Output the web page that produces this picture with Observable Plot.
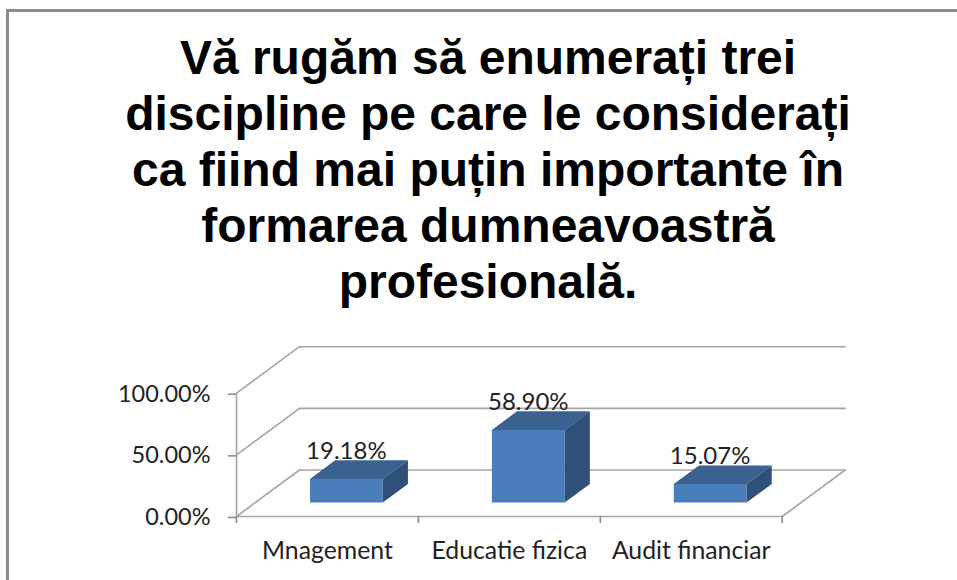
<!DOCTYPE html>
<html lang="ro">
<head>
<meta charset="utf-8">
<script src="https://cdn.jsdelivr.net/npm/d3@7"></script>
<script src="https://cdn.jsdelivr.net/npm/@observablehq/plot@0.6"></script>
<style>
html,body{margin:0;padding:0;background:#fff;width:957px;height:580px;overflow:hidden}
#frame{position:absolute;left:6px;top:9px;width:960px;height:580px;border-left:3px solid #8c8c8c;border-top:3px solid #8c8c8c;box-sizing:border-box}
#title{position:absolute;left:0;top:30px;width:976px;margin:0;text-align:center;font:bold 48px/56px "Liberation Sans",Arial,sans-serif;color:#000}
#chart{position:absolute;left:0;top:330px}
#chart svg{display:block;background:transparent}
</style>
</head>
<body>
<div id="frame"></div>
<h1 id="title">Vă rugăm să enumerați trei<br>discipline pe care le considerați<br>ca fiind mai puțin importante în<br>formarea dumneavoastră<br>profesională.</h1>
<div id="chart"></div>
<script>
const categories = ["Mnagement", "Educatie fizica", "Audit financiar"];
const values = [0.1918, 0.5890, 0.1507];
const yTicks = [0, 0.5, 1];

// Oblique projection of the 3D box: depth 0 = front of the floor, depth 1 = back wall.
const depthX = 0.3464, depthY = 0.377;
const barWidth = 0.4, barFront = 0.3, barBack = 0.7;
const pt = (cat, val, depth) => ({x: cat + depth * depthX, y: val + depth * depthY, cat});

const n = categories.length;
const segs = [];
for (const v of yTicks) {
  segs.push({k: "side" + v, ...pt(0, v, 0)}, {k: "side" + v, ...pt(0, v, 1)});
  segs.push({k: "back" + v, ...pt(0, v, 1)}, {k: "back" + v, ...pt(n, v, 1)});
}
segs.push({k: "floorR", ...pt(n, 0, 0)}, {k: "floorR", ...pt(n, 0, 1)});
segs.push({k: "floorF", ...pt(0, 0, 0)}, {k: "floorF", ...pt(n, 0, 0)});
segs.push({k: "axisY", ...pt(0, 0, 0)}, {k: "axisY", ...pt(0, 1, 0)});

const frontFace = [], topFace = [], sideFace = [];
values.forEach((v, i) => {
  const l = i + 0.5 - barWidth / 2, r = i + 0.5 + barWidth / 2;
  frontFace.push(pt(l, 0, barFront), pt(r, 0, barFront), pt(r, v, barFront), pt(l, v, barFront));
  topFace.push(pt(l, v, barFront), pt(r, v, barFront), pt(r, v, barBack), pt(l, v, barBack));
  sideFace.push(pt(r, 0, barFront), pt(r, v, barFront), pt(r, v, barBack), pt(r, 0, barBack));
  [frontFace, topFace, sideFace].forEach(f => f.slice(-4).forEach(p => p.cat = i));
});
const labels = values.map((v, i) => ({...pt(i + 0.5, v, barFront), text: d3.format(".2%")(v)}));

const face = (d, fill) => Plot.line(d, {x: "x", y: "y", z: "cat", fill, stroke: null});

const chart = Plot.plot({
  width: 957, height: 250,
  marginLeft: 236, marginRight: 175.3, marginTop: 62.7, marginBottom: 64,
  style: {fontFamily: "Lato, sans-serif", background: "transparent", overflow: "visible"},
  x: {domain: [0, n]},
  y: {domain: [0, 1]},
  marks: [
    Plot.line(segs, {x: "x", y: "y", z: "k", stroke: "#a6a6a6", strokeWidth: 1.6}),
    Plot.axisY({ticks: yTicks, tickFormat: d3.format(".2%"), tickSize: 8, tickPadding: 18, dy: 1,
      fontSize: 23.5, stroke: "#8c8c8c", fill: "#222", strokeWidth: 1.6, label: null}),
    Plot.axisX({ticks: d3.range(n + 1), tickFormat: () => "", tickSize: 7, stroke: "#8c8c8c", strokeWidth: 1.6, label: null}),
    Plot.axisX({ticks: categories.map((c, i) => i + 0.5), tickFormat: x => categories[x - 0.5],
      tickSize: 0, tickPadding: 25, fontSize: 24.8, fill: "#222", label: null}),
    face(frontFace, "#4a7ebb"),
    face(topFace, "#3b6190"),
    face(sideFace, "#2f5078"),
    Plot.text(labels, {x: "x", y: "y", text: "text", dy: -20, lineAnchor: "bottom",
      fontSize: 24, fill: "#222"})
  ]
});
document.getElementById("chart").appendChild(chart);
</script>
</body>
</html>
